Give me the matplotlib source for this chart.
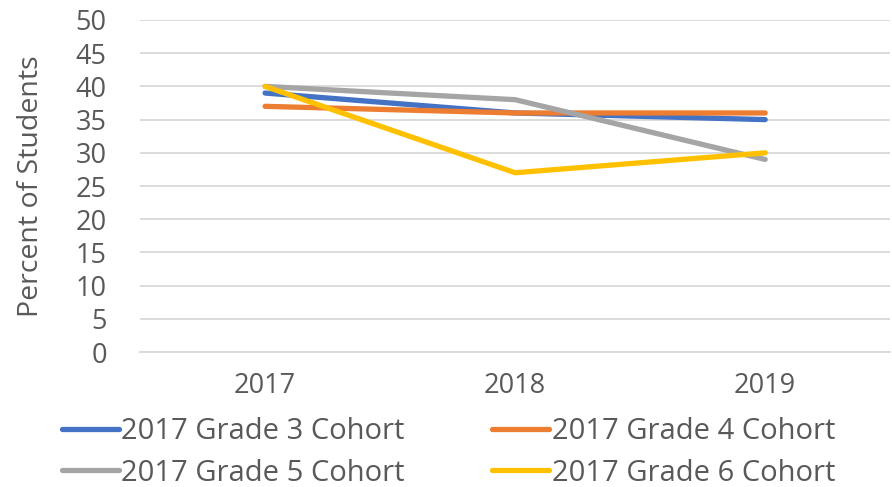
import matplotlib.pyplot as plt

years = ['2017', '2018', '2019']
grade3 = [39, 36, 35]
grade4 = [37, 36, 36]
grade5 = [40, 38, 29]
grade6 = [40, 27, 30]
labels = ['2017 Grade 3 Cohort', '2017 Grade 4 Cohort',
          '2017 Grade 5 Cohort', '2017 Grade 6 Cohort']
colors = ['#4472C4', '#ED7D31', '#A5A5A5', '#FFC000']

plt.rcParams['font.family'] = ['Open Sans', 'DejaVu Sans']
text_color = '#595959'

fig = plt.figure(figsize=(8.92, 4.87), dpi=100)
ax = fig.add_axes([0.157, 0.277, 0.841, 0.682])

x = range(len(years))
lines = []
for vals, lab, c in zip([grade3, grade4, grade5, grade6], labels, colors):
    ln, = ax.plot(x, vals, color=c, lw=3.8, solid_capstyle='round', label=lab)
    lines.append(ln)

ax.set_xlim(-0.5, 2.5)
ax.set_ylim(0, 50)
ax.set_yticks(range(0, 51, 5))
ax.set_xticks(list(x))
ax.set_xticklabels(years)
ax.grid(axis='y', color='#D9D9D9', lw=1.3)
ax.set_axisbelow(True)
for s in ['top', 'right', 'left']:
    ax.spines[s].set_visible(False)
ax.spines['bottom'].set_color('#D9D9D9')
ax.spines['bottom'].set_linewidth(1.3)
ax.tick_params(length=0, labelsize=19.5, colors=text_color)
ax.tick_params(axis='y', pad=24)
ax.tick_params(axis='x', pad=14)
ax.set_ylabel('Percent of Students', fontsize=20.5, color=text_color, labelpad=22)

# legend fills column-wise, so reorder to get rows: 3,4 / 5,6
order = [0, 2, 1, 3]
fig.legend([lines[i] for i in order], [labels[i] for i in order],
           loc='center', bbox_to_anchor=(0.503, 0.071), ncol=2,
           frameon=False, fontsize=21, labelcolor=text_color,
           handlelength=1.95, handletextpad=0.1, columnspacing=3.0,
           labelspacing=0.42)

fig.savefig('out.png', dpi=100)
